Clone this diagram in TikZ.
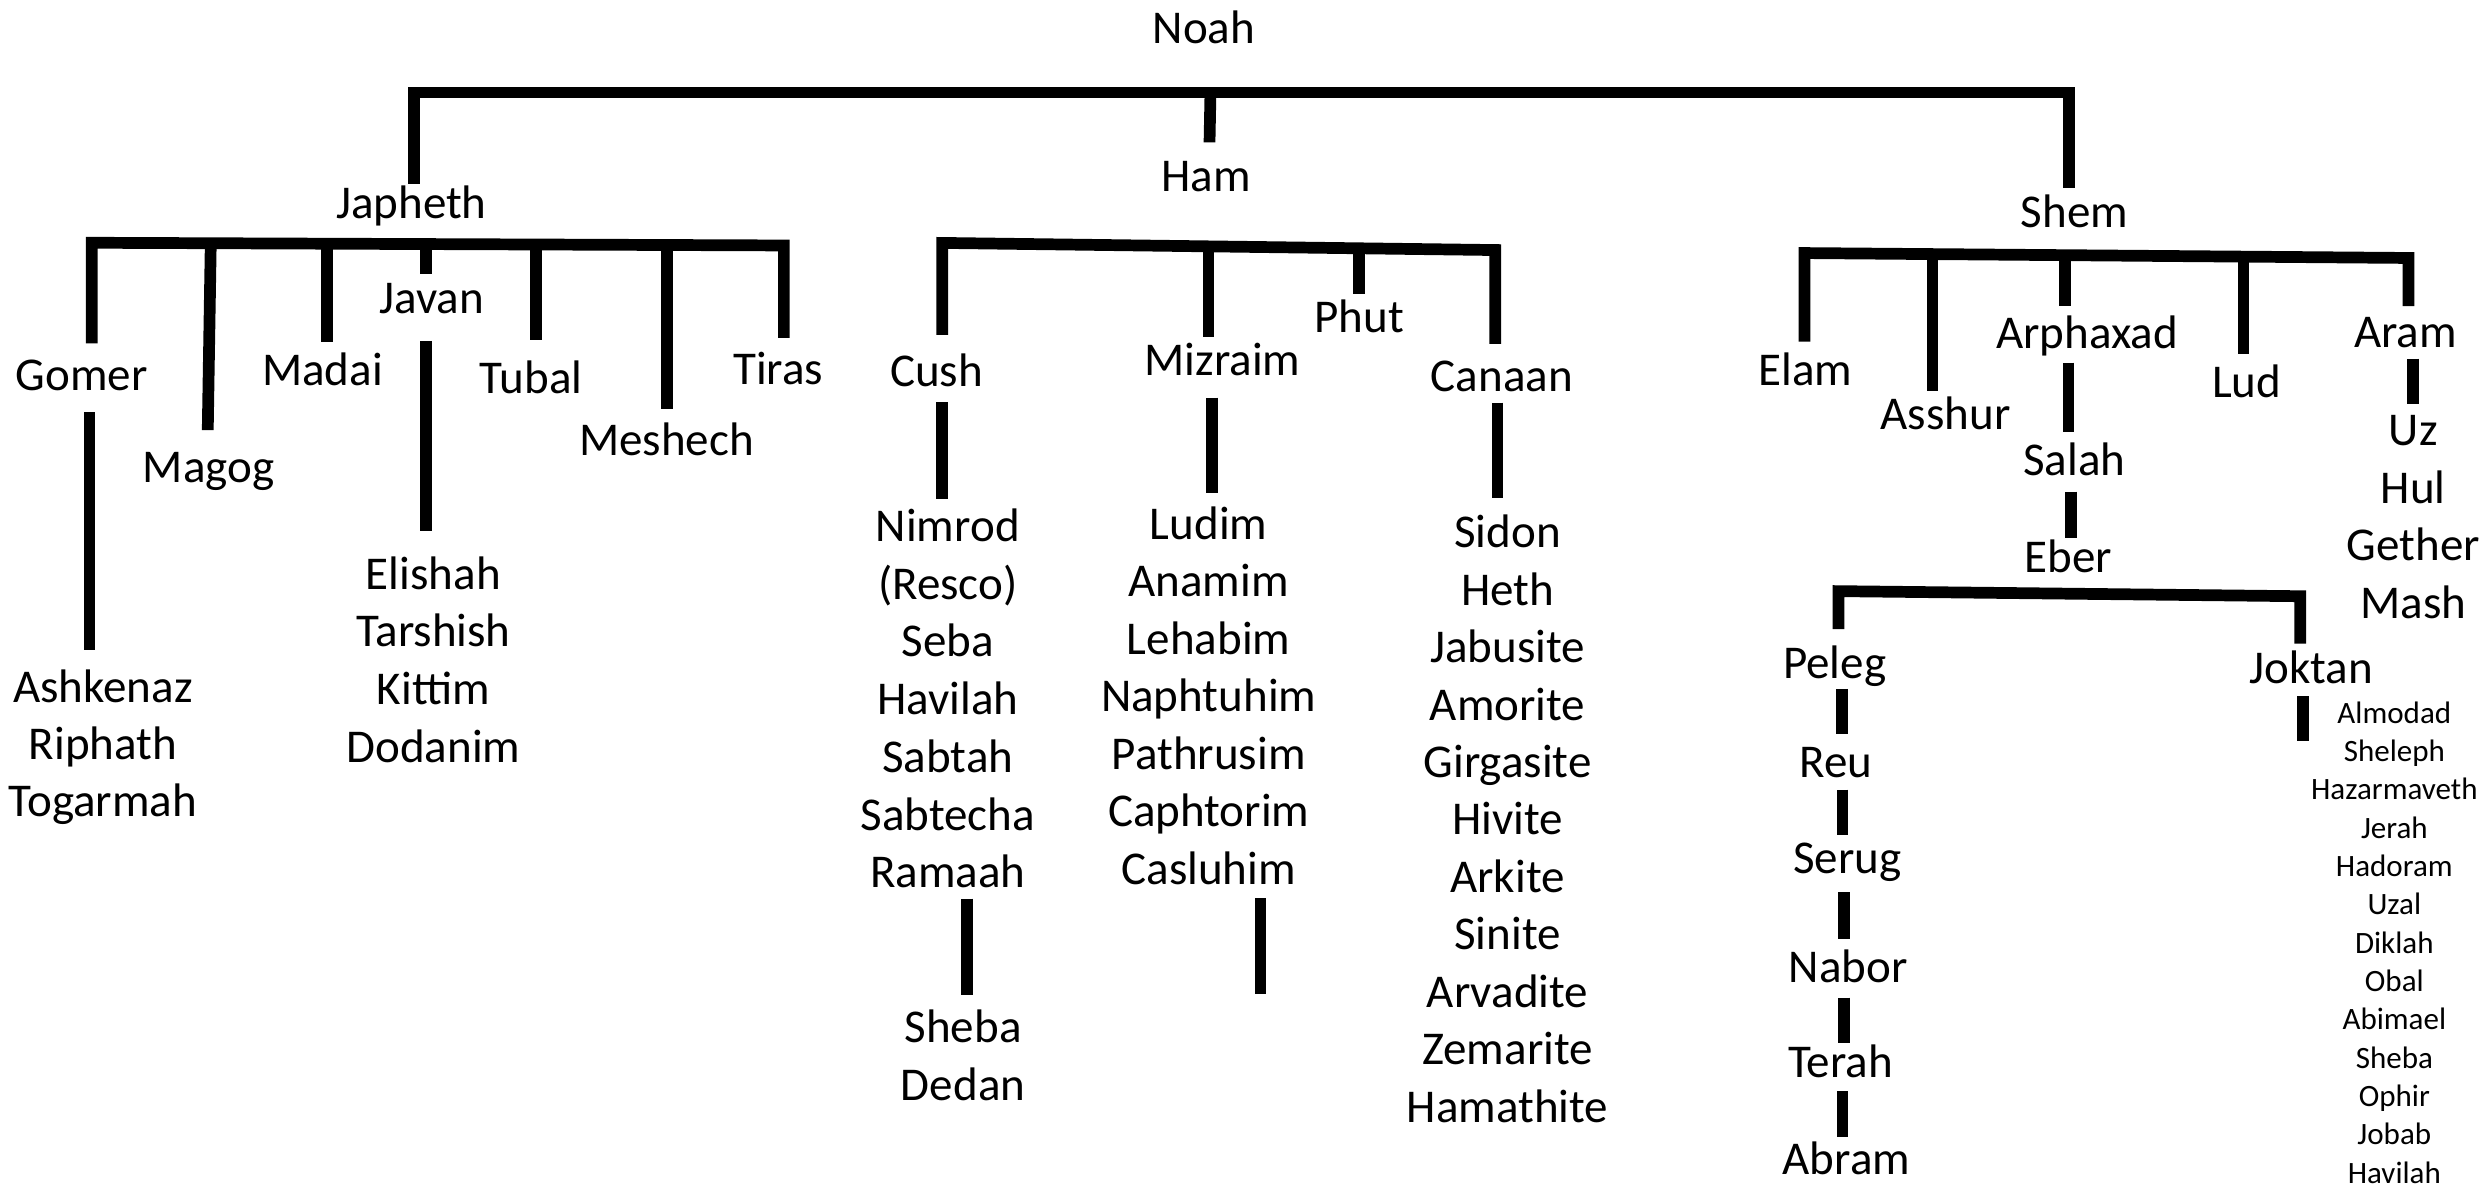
\documentclass[tikz,border=0pt]{standalone}
\usepackage{fontspec}
\setmainfont{Carlito}
\begin{document}
\tikzset{
  person/.style={font=\fontsize{14.85}{18}\selectfont, anchor=base, inner sep=0pt},
  minor/.style={font=\fontsize{9.8}{12}\selectfont, anchor=base, inner sep=0pt},
  kin/.style={line width=3.7pt, line cap=butt, line join=miter, black}
}
\begin{tikzpicture}[x=0.5pt,y=-0.5pt]
\useasboundingbox (0,0) rectangle (1568,751);

% ---------- names ----------
\node[person] (noah)    at (760.3,27.4)  {Noah};
\node[person] (japheth) at (259.8,138.2) {Japheth};
\node[person] (ham)     at (761.7,121)   {Ham};
\node[person] (shem)    at (1310,143.8)  {Shem};

% sons of Japheth
\node[person] (gomer)   at (51.7,246.9)  {Gomer};
\node[person] (magog)   at (131.8,305)   {Magog};
\node[person] (madai)   at (203.7,243.5) {Madai};
\node[person] (javan)   at (272.6,198)   {Javan};
\node[person] (tubal)   at (335.5,248.4) {Tubal};
\node[person] (meshech) at (420.9,287.6) {Meshech};
\node[person] (tiras)   at (491.5,242.9) {Tiras};
\foreach \w [count=\i from 0] in {Ashkenaz,Riphath,Togarmah}
  \node[person] (gom\i) at (65,{443.6+36*\i}) {\w};
\foreach \w [count=\i from 0] in {Elishah,Tarshish,Kittim,Dodanim}
  \node[person] (jav\i) at (273.7,{372+36.5*\i}) {\w};

% sons of Ham
\node[person] (cush)    at (591.5,244)   {Cush};
\node[person] (mizraim) at (772,237.4)   {Mizraim};
\node[person] (phut)    at (858.4,210.1) {Phut};
\node[person] (canaan)  at (948.4,247.3) {Canaan};
\foreach \w [count=\i from 0] in {Nimrod,{(Resco)},Seba,Havilah,Sabtah,Sabtecha,Ramaah}
  \node[person] (cus\i) at (598.5,{342+36.43*\i}) {\w};
\node[person] (sheba)   at (608.2,658.2) {Sheba};
\node[person] (dedan)   at (608.2,695)   {Dedan};
\foreach \w [count=\i from 0] in {Ludim,Anamim,Lehabim,Naphtuhim,Pathrusim,Caphtorim,Casluhim}
  \node[person] (miz\i) at (763.3,{340.6+36.3*\i}) {\w};
\foreach \w [count=\i from 0] in {Sidon,Heth,Jabusite,Amorite,Girgasite,Hivite,Arkite,Sinite,Arvadite,Zemarite,Hamathite}
  \node[person] (can\i) at (952,{345.9+36.27*\i}) {\w};

% sons of Shem
\node[person] (elam)     at (1140,243.6)   {Elam};
\node[person] (asshur)   at (1228.6,271.4) {Asshur};
\node[person] (arphaxad) at (1318,220.2)   {Arphaxad};
\node[person] (lud)      at (1418.8,251.3) {Lud};
\node[person] (aram)     at (1519,219.5)   {Aram};
\foreach \w [count=\i from 0] in {Uz,Hul,Gether,Mash}
  \node[person] (ara\i) at (1524,{281.5+36.3*\i}) {\w};
\node[person] (salah)  at (1310,300.4)   {Salah};
\node[person] (eber)   at (1306,361.6)   {Eber};
\node[person] (peleg)  at (1158.5,428.7) {Peleg};
\node[person] (reu)    at (1159.5,491)   {Reu};
\node[person] (serug)  at (1166.6,551.5) {Serug};
\node[person] (nabor)  at (1167,620.6)   {Nabor};
\node[person] (terah)  at (1162.3,680.6) {Terah};
\node[person] (abram)  at (1166,741.4)   {Abram};
\node[person] (joktan) at (1459.5,431.6) {Joktan};
\foreach \w [count=\i from 0] in {Almodad,Sheleph,Hazarmaveth,Jerah,Hadoram,Uzal,Diklah,Obal,Abimael,Sheba,Ophir,Jobab,Havilah}
  \node[minor] (jok\i) at (1512,{456.7+24.2*\i}) {\w};

% ---------- connectors ----------
% Noah
\coordinate (nJ) at (261.5,116);   \coordinate (nJt) at (261.5,58.4);
\coordinate (nS) at (1306.5,118.4); \coordinate (nSt) at (1306.5,58.4);
\coordinate (nHt) at (764.4,58.4); \coordinate (nH) at (763.8,89.9);
\draw[kin] (nJ) -- (nJt) -- (nSt) -- (nS);
\draw[kin] (nHt) -- (nH);

% Japheth
\coordinate (jL) at (57.9,153.3);  \coordinate (jR) at (495,155);
\coordinate (jGo) at (57.9,216.8); \coordinate (jTi) at (495,213.4);
\draw[kin] (jGo) -- (jL) -- (jR) -- (jTi);
\coordinate (jMa1) at (133.1,153.6); \coordinate (jMa2) at (131.2,271.6);
\coordinate (jMd1) at (206.3,153.8); \coordinate (jMd2) at (206.3,216.2);
\coordinate (jJv1) at (269,154);     \coordinate (jJv2) at (269,173);
\coordinate (jTu1) at (338.5,154.4); \coordinate (jTu2) at (338.5,215);
\coordinate (jMe1) at (421,154.7);   \coordinate (jMe2) at (421,258);
\draw[kin] (jMa1) -- (jMa2);
\draw[kin] (jMd1) -- (jMd2);
\draw[kin] (jJv1) -- (jJv2);
\draw[kin] (jTu1) -- (jTu2);
\draw[kin] (jMe1) -- (jMe2);
\coordinate (gA1) at (56.5,260.2);  \coordinate (gA2) at (56.5,410.5);
\draw[kin] (gA1) -- (gA2);
\coordinate (vE1) at (269.2,215.3); \coordinate (vE2) at (269.2,335.3);
\draw[kin] (vE1) -- (vE2);

% Ham
\coordinate (hL) at (595,153.4);   \coordinate (hR) at (944.2,157.9);
\coordinate (hCu) at (595,211.5);  \coordinate (hCa) at (944.2,217.2);
\draw[kin] (hCu) -- (hL) -- (hR) -- (hCa);
\coordinate (hMi1) at (763.2,155.6); \coordinate (hMi2) at (763.2,212.6);
\coordinate (hPh1) at (858.1,156.8); \coordinate (hPh2) at (858.1,185.7);
\draw[kin] (hMi1) -- (hMi2);
\draw[kin] (hPh1) -- (hPh2);
\coordinate (cN1) at (595,254);     \coordinate (cN2) at (595,315.4);
\coordinate (mL1) at (765.3,251.1); \coordinate (mL2) at (765.3,311.5);
\coordinate (kS1) at (945.7,254.3); \coordinate (kS2) at (945.7,314.7);
\coordinate (rS1) at (610.6,567.4); \coordinate (rS2) at (610.6,628.3);
\coordinate (mC1) at (796,567.2);   \coordinate (mC2) at (796,628);
\draw[kin] (cN1) -- (cN2);
\draw[kin] (mL1) -- (mL2);
\draw[kin] (kS1) -- (kS2);
\draw[kin] (rS1) -- (rS2);
\draw[kin] (mC1) -- (mC2);

% Shem
\coordinate (sL) at (1139.5,159.8); \coordinate (sR) at (1521,162.9);
\coordinate (sEl) at (1139.5,215.8); \coordinate (sAr) at (1521,193.3);
\draw[kin] (sEl) -- (sL) -- (sR) -- (sAr);
\coordinate (sAs1) at (1220.3,160.4); \coordinate (sAs2) at (1220.3,247);
\coordinate (sAp1) at (1304,161.1);   \coordinate (sAp2) at (1304,193.2);
\coordinate (sLu1) at (1416.7,162);   \coordinate (sLu2) at (1416.7,223.6);
\draw[kin] (sAs1) -- (sAs2);
\draw[kin] (sAp1) -- (sAp2);
\draw[kin] (sLu1) -- (sLu2);
\coordinate (aS1) at (1306.2,229);   \coordinate (aS2) at (1306.2,273);
\coordinate (sE1) at (1307.7,310.5); \coordinate (sE2) at (1307.7,339.5);
\coordinate (aU1) at (1524,226.4);   \coordinate (aU2) at (1524,255);
\draw[kin] (aS1) -- (aS2);
\draw[kin] (sE1) -- (sE2);
\draw[kin] (aU1) -- (aU2);

% Eber
\coordinate (eL) at (1161,373.3);    \coordinate (eR) at (1452.6,376.5);
\coordinate (ePe) at (1161,397.3);   \coordinate (eJo) at (1452.6,406.5);
\draw[kin] (ePe) -- (eL) -- (eR) -- (eJo);
\coordinate (jA1) at (1454.5,439.6); \coordinate (jA2) at (1454.5,468.1);
\draw[kin] (jA1) -- (jA2);
\coordinate (p1) at (1163,435);    \coordinate (p2) at (1163,463.6);
\coordinate (r1) at (1163.5,498.7);\coordinate (r2) at (1163.5,527.3);
\coordinate (s1) at (1164.6,563.5);\coordinate (s2) at (1164.6,592.9);
\coordinate (n1) at (1164.6,630);  \coordinate (n2) at (1164.6,658.6);
\coordinate (t1) at (1163.5,689.2);\coordinate (t2) at (1163.5,717.7);
\draw[kin] (p1) -- (p2);
\draw[kin] (r1) -- (r2);
\draw[kin] (s1) -- (s2);
\draw[kin] (n1) -- (n2);
\draw[kin] (t1) -- (t2);
\end{tikzpicture}
\end{document}
